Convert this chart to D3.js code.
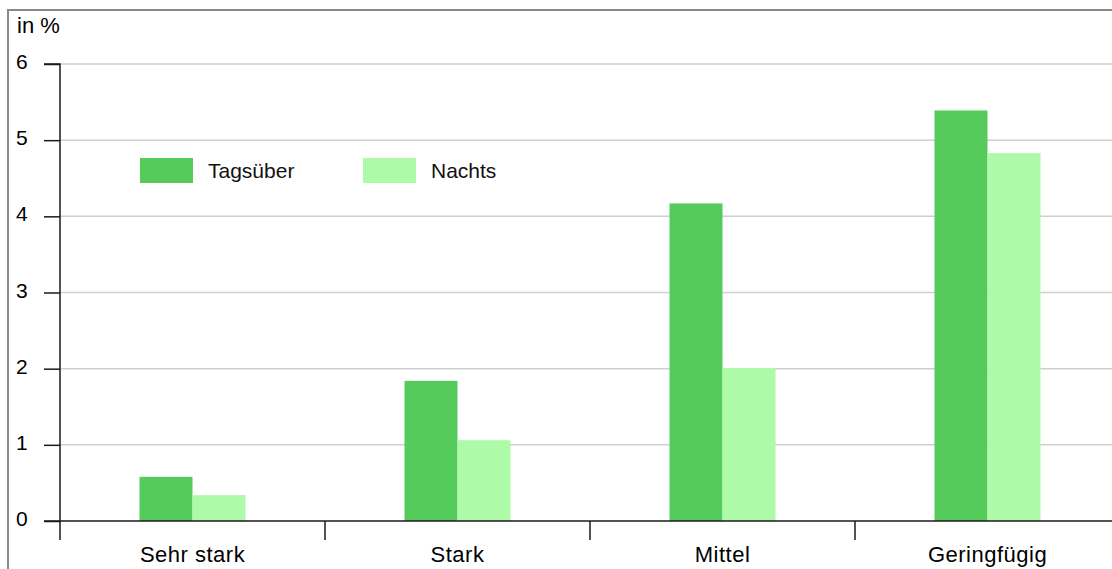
<!DOCTYPE html>
<html><head><meta charset="utf-8">
<script src="https://cdn.jsdelivr.net/npm/d3@7"></script>
<style>body{margin:0;background:#fff;}svg{display:block;font-family:"Liberation Sans",Arial,sans-serif;}</style>
</head><body>
<svg id="c" width="1112" height="569"></svg>
<script>
const categories = ["Sehr stark", "Stark", "Mittel", "Geringfügig"];
const seriesNames = ["Tagsüber", "Nachts"];
const tagsueber = [0.58, 1.84, 4.17, 5.39];
const nachts = [0.34, 1.06, 2.01, 4.83];
const yTicks = [0, 1, 2, 3, 4, 5, 6];
const colors = ["#55cb5b", "#adfaa8"];

const svg = d3.select("#c");
const x0 = 60, x1 = 1120, yTop = 64, yBot = 521;
const x = d3.scaleBand().domain(categories).range([x0, x1]).paddingInner(0).paddingOuter(0);
const y = d3.scaleLinear().domain([0, 6]).range([yBot, yTop]);
const barW = 53;

// frame
svg.append("rect").attr("x", 8).attr("y", 10).attr("width", 1120).attr("height", 600)
  .attr("fill", "none").attr("stroke", "#8a8a8a").attr("stroke-width", 2);

// gridlines
svg.append("g").selectAll("line").data(yTicks.filter(d => d > 0)).join("line")
  .attr("x1", x0).attr("x2", 1112).attr("y1", d => y(d)).attr("y2", d => y(d))
  .attr("stroke", "#cfcfcf").attr("stroke-width", 1.5);

// bars
const series = [tagsueber, nachts];
series.forEach((vals, si) => {
  svg.append("g").selectAll("rect").data(categories).join("rect")
    .attr("x", (d) => x(d) + x.bandwidth() / 2 - barW + si * barW)
    .attr("width", barW)
    .attr("y", (d, i) => y(vals[i]))
    .attr("height", (d, i) => y(0) - y(vals[i]))
    .attr("fill", colors[si]);
});

// y axis
const yAxis = d3.axisLeft(y).tickValues(yTicks).tickSize(16).tickFormat(d3.format("d"));
const gy = svg.append("g").attr("transform", `translate(${x0},0)`).call(yAxis);
gy.select(".domain").attr("stroke", "#1a1a1a").attr("stroke-width", 1.5).attr("d", `M-16,${yTop}H0V${yBot}`);
gy.selectAll(".tick line").attr("stroke", "#1a1a1a").attr("stroke-width", 1.5);
gy.selectAll(".tick text").attr("font-size", 21).attr("fill", "#000").attr("text-anchor", "start").attr("x", -44).attr("dy", "0.22em");

// x axis
const xAxis = d3.axisBottom(x).tickSize(0).tickSizeOuter(0);
const gx = svg.append("g").attr("transform", `translate(0,${yBot})`).call(xAxis);
gx.select(".domain").attr("stroke", "#1a1a1a").attr("stroke-width", 1.5).attr("d", `M44,0H1112`);
gx.selectAll(".tick text").attr("font-size", 22).attr("letter-spacing", "0.5px").attr("fill", "#000").attr("y", 41).attr("dy", 0);
// category separator ticks
svg.append("g").selectAll("line").data(categories).join("line")
  .attr("x1", d => x(d)).attr("x2", d => x(d)).attr("y1", yBot).attr("y2", yBot + 19)
  .attr("stroke", "#1a1a1a").attr("stroke-width", 1.5);

// unit label
svg.append("text").attr("x", 17).attr("y", 33).attr("font-size", 22).text("in %");

// legend
const legX = [140, 363];
seriesNames.forEach((n, i) => {
  svg.append("rect").attr("x", legX[i]).attr("y", 158).attr("width", 53).attr("height", 25).attr("fill", colors[i]);
  svg.append("text").attr("x", legX[i] + 68).attr("y", 178).attr("font-size", 21).attr("fill", "#111").text(n);
});
</script>
</body></html>
